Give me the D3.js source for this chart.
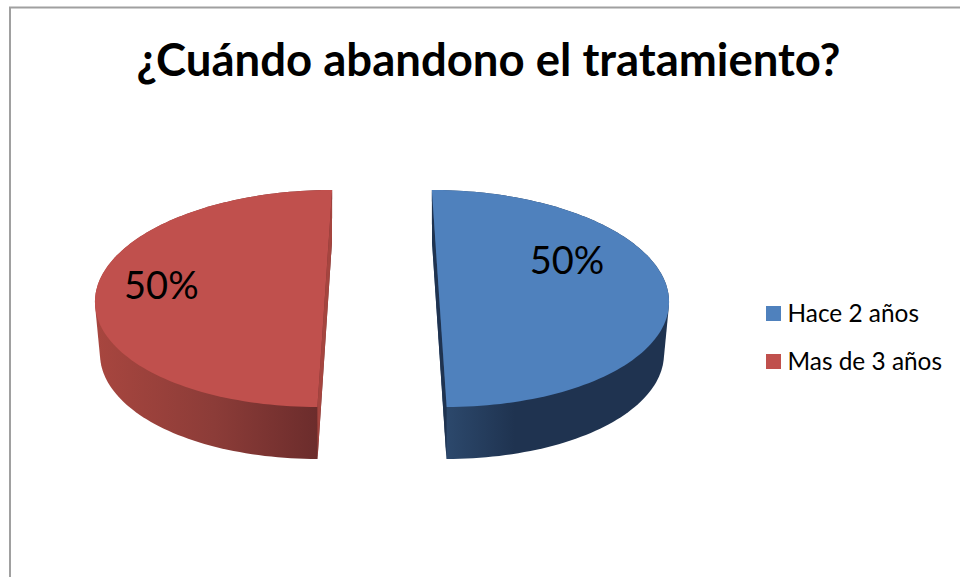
<!DOCTYPE html>
<html>
<head>
<meta charset="utf-8">
<script src="https://d3js.org/d3.v7.min.js"></script>
<style>
  html, body { margin: 0; padding: 0; background: #fff; overflow: hidden; }
  svg { display: block; }
  text { font-family: Lato, "Open Sans", sans-serif; fill: #000; }
</style>
</head>
<body>
<svg id="chart" width="960" height="577"></svg>
<script>
var title = "¿Cuándo abandono el tratamiento?";
var categories = ["Hace 2 años", "Mas de 3 años"];
var values = [50, 50];
var percentLabels = ["50%", "50%"];

var topColors = ["#4f81bd", "#c0504d"];
var cutColors = ["#1f3350", "#a5453f"];
// side wall shading, left to right
var wallStops = [
  ["#2f4d72", "#1f3350", "#1f3350"],
  ["#a8463f", "#8c3c38", "#672a2a"]
];

var svg = d3.select("svg#chart");

// frame is cut off on the right and at the bottom
svg.append("path")
  .attr("d", "M10,577V7.5H960")
  .attr("fill", "none")
  .attr("stroke", "#a0a0a0")
  .attr("stroke-width", 2);

svg.append("text")
  .attr("x", 488.5)
  .attr("y", 76)
  .attr("text-anchor", "middle")
  .attr("font-size", 45.5)
  .attr("font-weight", "bold")
  .text(title);

// perspective projection of the tilted, exploded pie
var cx = 381.5, cy = 284.6, sx = 227.8, sy = 106.7, persp = 0.1278, explode = 0.2494, depth = 52, bottomShrink = 0.978;

function project(angle, r, side) {
  var u = r * Math.sin(angle) + side * explode,
    v = -r * Math.cos(angle),
    w = 1 - persp * v;
  return [cx + (side < 0 ? 1 : 0) + (sx * u) / w, cy + (sy * v) / w];
}

var pie = d3.pie().sort(null).value(function (d) { return d; });
var arcs = pie(values);
var line = d3.line();

var defs = svg.append("defs");

var slices = svg.selectAll("g.slice")
  .data(arcs)
  .enter()
  .append("g")
  .attr("class", "slice");

function sideOf(d) {
  return d.index === 0 ? 1 : -1;
}

function rim(d) {
  return d3.range(0, 121).map(function (i) {
    return project(d.startAngle + ((d.endAngle - d.startAngle) * i) / 120, 1, sideOf(d));
  });
}

// lower face sits further from the eye, so it is a bit narrower
function down(d, p) {
  var mx = cx + sideOf(d) * sx * explode;
  return [mx + (p[0] - mx) * bottomShrink, p[1] + depth];
}

// wall gradients run across the width of each slice
slices.each(function (d) {
  var pts = rim(d);
  var ext = d3.extent(pts, function (p) { return p[0]; });
  var grad = defs.append("linearGradient")
    .attr("id", "wall" + d.index)
    .attr("gradientUnits", "userSpaceOnUse")
    .attr("x1", ext[0])
    .attr("x2", ext[1])
    .attr("y1", 0)
    .attr("y2", 0);
  var stops = wallStops[d.index];
  stops.forEach(function (c, i) {
    var off = d.index === 0 ? [0, 0.35, 1][i] : i / (stops.length - 1);
    grad.append("stop").attr("offset", off).attr("stop-color", c);
  });
});

slices.append("path")
  .attr("d", function (d) {
    var pts = rim(d);
    var low = pts.map(function (p) { return down(d, p); });
    return line(d3.polygonHull(pts.concat(low))) + "Z";
  })
  .attr("fill", function (d) { return "url(#wall" + d.index + ")"; });

slices.append("path")
  .attr("d", function (d) {
    var pts = rim(d),
      a = pts[0],
      b = pts[pts.length - 1];
    return line([a, b, down(d, b), down(d, a)]) + "Z";
  })
  .attr("fill", function (d) { return cutColors[d.index]; });

slices.append("path")
  .attr("d", function (d) { return line(rim(d)) + "Z"; })
  .attr("fill", function (d) { return topColors[d.index]; });

// label spot per slice: radius and angle shift from the slice middle
var labelRadius = [0.63, 0.72];
var labelShift = [-0.366, -0.018];

slices.append("text")
  .attr("transform", function (d) {
    var mid = (d.startAngle + d.endAngle) / 2 + labelShift[d.index];
    var p = project(mid, labelRadius[d.index], sideOf(d));
    return "translate(" + p[0] + "," + p[1] + ")";
  })
  .attr("text-anchor", "middle")
  .attr("dy", "0.33em")
  .attr("font-size", 38)
  .text(function (d) { return percentLabels[d.index]; });

var legendY = d3.scalePoint().domain(categories).range([313.5, 361.5]);

var legend = svg.selectAll("g.legend")
  .data(categories)
  .enter()
  .append("g")
  .attr("class", "legend")
  .attr("transform", function (d) { return "translate(766," + legendY(d) + ")"; });

legend.append("rect")
  .attr("y", -7.5)
  .attr("width", 15)
  .attr("height", 15)
  .attr("fill", function (d, i) { return topColors[i]; });

legend.append("text")
  .attr("x", 21.5)
  .attr("y", 8.3)
  .attr("font-size", 24.4)
  .text(function (d) { return d; });
</script>
</body>
</html>
